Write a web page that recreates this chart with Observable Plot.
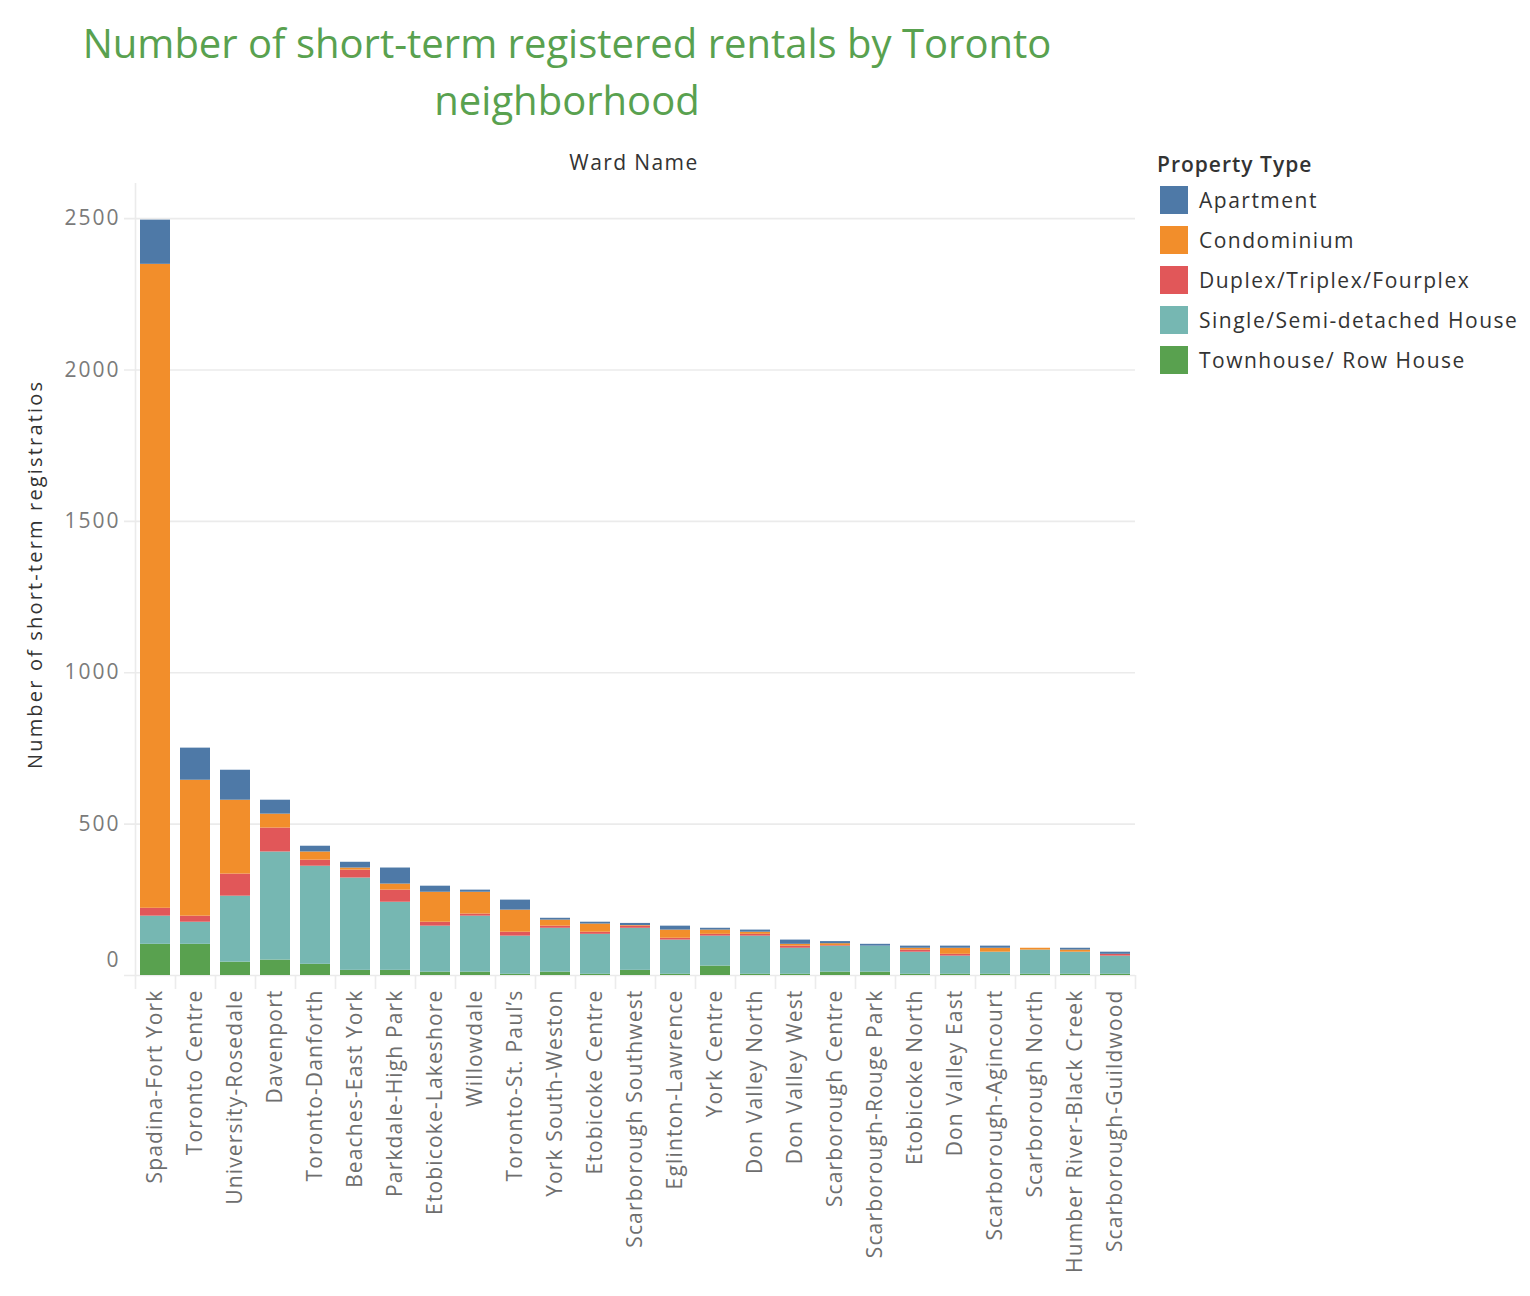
<!DOCTYPE html>
<html>
<head>
<meta charset="utf-8">
<script src="https://cdn.jsdelivr.net/npm/d3@7"></script>
<script src="https://cdn.jsdelivr.net/npm/@observablehq/plot@0.6"></script>
<style>
  html, body { margin: 0; padding: 0; background: #fff; }
  #wrap { position: relative; width: 1530px; height: 1296px; overflow: hidden; }
  #chart { position: absolute; left: 0; top: 0; }
  #title { position: absolute; left: 0; top: 14px; width: 1134px; text-align: center;
    font-family: "Open Sans", sans-serif; font-size: 40px; line-height: 57px; color: #59a14f; }
  #xtitle { position: absolute; left: 534px; width: 200px; top: 148px; text-align: center;
    font-family: "Open Sans", sans-serif; font-size: 21px; letter-spacing: 1.4px; color: #333; }
  #legend { position: absolute; left: 1157px; top: 148px; font-family: "Open Sans", sans-serif; color: #333; }
  #legend .lt { font-size: 21px; letter-spacing: 1px; font-weight: 600; height: 32px; line-height: 32px; margin-bottom: 0px; }
  #legend .row { display: flex; align-items: center; height: 40px; }
  #legend .sw { width: 28px; height: 28px; margin-left: 3px; margin-right: 11px; }
  #legend .lab { font-size: 21px; letter-spacing: 1.5px; white-space: nowrap; }
</style>
</head>
<body>
<div id="wrap">
  <div id="chart"></div>
  <div id="title">Number of short-term registered rentals by Toronto<br>neighborhood</div>
  <div id="xtitle">Ward Name</div>
  <div id="legend"></div>
</div>
<script>
const wards = ["Spadina-Fort York","Toronto Centre","University-Rosedale","Davenport","Toronto-Danforth",
  "Beaches-East York","Parkdale-High Park","Etobicoke-Lakeshore","Willowdale","Toronto-St. Paul\u2019s",
  "York South-Weston","Etobicoke Centre","Scarborough Southwest","Eglinton-Lawrence","York Centre",
  "Don Valley North","Don Valley West","Scarborough Centre","Scarborough-Rouge Park","Etobicoke North",
  "Don Valley East","Scarborough-Agincourt","Scarborough North","Humber River-Black Creek","Scarborough-Guildwood"];

const legendTypes = ["Apartment","Condominium","Duplex/Triplex/Fourplex","Single/Semi-detached House","Townhouse/ Row House"];
const typeColors = ["#4e79a7","#f28e2b","#e15759","#76b7b2","#59a14f"];

const townhouse = [103,103,44,51,37,17,17,11,11,4,11,4,17,4,31,4,4,11,11,4,4,4,4,4,4];
const single    = [93,73,218,357,324,305,225,152,185,126,145,132,139,113,99,126,86,86,86,73,60,73,80,73,60];
const duplex    = [26,20,73,79,20,26,40,13,7,13,7,7,7,6,6,6,7,2,0,7,6,0,0,0,6];
const condo     = [2127,449,244,46,27,7,20,99,72,73,20,27,2,27,14,7,6,6,0,6,20,13,6,7,0];
const apartment = [146,106,99,46,19,19,53,20,7,33,6,6,7,13,6,7,14,7,6,7,7,7,0,6,7];

const yTicks = [500,1000,1500,2000,2500];

// bottom-to-top stacking order
const series = [
  ["Townhouse/ Row House", townhouse],
  ["Single/Semi-detached House", single],
  ["Duplex/Triplex/Fourplex", duplex],
  ["Condominium", condo],
  ["Apartment", apartment]
];
const rows = [];
wards.forEach((w, i) => {
  series.forEach(([t, vals]) => rows.push({ward: w, type: t, value: vals[i]}));
});

const font = "Open Sans, sans-serif";
const chart = Plot.plot({
  width: 1530,
  height: 1296,
  marginLeft: 124,
  marginRight: 395,
  marginTop: 183,
  marginBottom: 321,
  style: {fontFamily: font, background: "#fff"},
  x: {domain: wards, paddingInner: 0.25, paddingOuter: 0.125, insetLeft: 11, axis: null},
  y: {domain: [0, 2616], axis: null},
  color: {domain: legendTypes, range: typeColors},
  marks: [
    Plot.gridY(yTicks, {stroke: "#ebebeb", strokeOpacity: 1, strokeWidth: 1.6}),
    Plot.ruleY([0], {stroke: "#ebebeb", strokeWidth: 1.6}),
    Plot.ruleX([wards[0]], {dx: -20, y1: 2616, y2: 0, stroke: "#ebebeb", strokeWidth: 1.6}),
    Plot.barY(rows, {x: "ward", y: "value", fill: "type", order: null}),
    Plot.axisX({tickSize: 14, tickFormat: () => "", dx: -20, stroke: "#ececec", strokeWidth: 1.6, label: null}),
    Plot.axisX([wards[wards.length - 1]], {tickSize: 14, tickFormat: () => "", dx: 20, stroke: "#ececec", strokeWidth: 1.6, label: null}),
    Plot.axisX({tickSize: 0, tickPadding: 14, tickRotate: -90, fontSize: 21, fill: "#6e6e6e", fontFamily: font, label: null}),
    Plot.axisY(yTicks, {tickSize: 0, tickPadding: 4, tickFormat: d => String(d), fontSize: 21, fill: "#7a7a7a", fontFamily: font, label: null}),
    Plot.axisY([0], {tickSize: 0, tickPadding: 4, dy: -15, tickFormat: d => String(d), fontSize: 21, fill: "#7a7a7a", fontFamily: font, label: null}),
    Plot.text(["Number of short-term registratios"], {frameAnchor: "left", dx: -89, dy: -4, rotate: -90,
      textAnchor: "middle", fontSize: 20, fill: "#333", fontFamily: font, text: d => d})
  ]
});
document.getElementById("chart").appendChild(chart);

// letter spacing to mimic the wider Tableau face
d3.select(chart).selectAll('g[aria-label="x-axis tick label"] text').style("letter-spacing", "1.15px");
d3.select(chart).selectAll('g[aria-label="y-axis tick label"] text').style("letter-spacing", "2px");
d3.select(chart).selectAll('g[aria-label="text"] text').attr("textLength", 387).attr("lengthAdjust", "spacing");

const leg = document.getElementById("legend");
leg.innerHTML = '<div class="lt">Property Type</div>' + legendTypes.map((t, i) =>
  `<div class="row"><div class="sw" style="background:${typeColors[i]}"></div><div class="lab">${t}</div></div>`).join("");
</script>
</body>
</html>
